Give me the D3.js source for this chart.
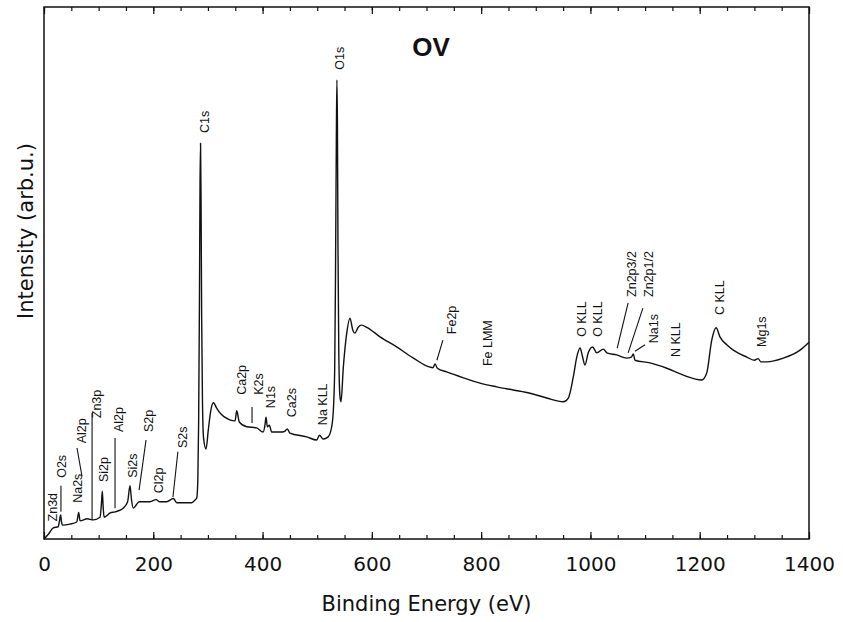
<!DOCTYPE html>
<html>
<head>
<meta charset="utf-8">
<script src="https://cdn.jsdelivr.net/npm/d3@7"></script>
<style>
  body { margin: 0; background: #fff; }
  #chart { width: 843px; height: 622px; }
</style>
</head>
<body>
<div id="chart"></div>
<script>
// XPS survey spectrum, sample "OV"
const energy = [
  0, 8, 17, 26, 28.5, 30.5, 32, 34, 47.6, 60, 63.5, 66, 79, 90, 102.5, 105, 106.7, 108.3, 110,
  121, 130, 145, 153, 157.4, 160, 163.4, 170, 174.4, 194, 205, 212, 224.5, 236.7, 243, 270,
  276, 279.5, 281.5, 283, 284.5, 285.5, 286.5, 287.5, 288.5, 290, 292, 296.5, 300.7, 305, 310,
  316, 322, 340, 349.6, 352.7, 357.4, 371, 389, 401, 404.5, 406.3, 408.7, 412.4, 416.7, 432,
  440, 445.3, 450, 480.8, 499, 504, 511, 520, 526.5, 529.5, 532, 533.5, 535, 536, 537, 538,
  539.5, 541.5, 543.5, 547.8, 554, 560, 565, 569, 575, 581, 590.6, 615, 645.5, 676, 706.4,
  712, 715.6, 720, 737, 767.4, 798, 828.5, 859, 889.5, 920, 950.4, 959.6, 968.7, 975, 981,
  985, 990, 996, 1004, 1011.5, 1023.6, 1030, 1048, 1066.4, 1075, 1078.5, 1081.6, 1109,
  1139.6, 1170, 1203.7, 1212.8, 1222, 1230, 1237, 1249.5, 1261.5, 1286, 1300, 1307, 1312,
  1322.6, 1353, 1383.6, 1400
];
const intensity = [
  0, 0.9, 2.1, 2.3, 3.5, 4.5, 3.2, 2.6, 2.8, 3.2, 5.0, 3.4, 3.8, 3.6, 4.1, 6.5, 9.0, 6.0, 4.1,
  4.9, 5.1, 5.8, 7.0, 10.0, 7.5, 5.8, 6.6, 7.0, 7.0, 7.4, 7.0, 7.0, 7.6, 6.8, 6.8,
  7.3, 7.7, 11, 22, 45, 66, 74.4, 62, 42, 26, 19, 16.9, 20.5, 24, 25.6,
  24.6, 23.7, 22.4, 22.2, 24.1, 22.0, 21.1, 20.9, 20.1, 21.5, 22.9, 21.1, 21.4, 20.1, 20.1,
  20.2, 20.7, 19.9, 19.2, 18.6, 19.5, 18.8, 19.2, 21.1, 24.2, 32, 50, 75, 86.3, 78, 55,
  35, 27, 25.8, 32.3, 38.7, 41.5, 39.3, 38.7, 39.8, 40.2, 39.8, 38.0, 36.1, 34.0, 32.3,
  32.2, 32.9, 32.1, 31.4, 30.3, 29.3, 28.6, 28.0, 27.4, 26.5, 25.8, 26.5, 30.5, 34.2, 35.9,
  34.5, 32.7, 35.0, 36.1, 35.0, 35.7, 35.0, 34.6, 34.0, 34.2, 34.8, 33.6, 33.1,
  32.1, 30.8, 29.9, 31.2, 37.4, 39.7, 38.0, 36.5, 35.5, 34.2, 33.6, 33.9, 33.3,
  33.3, 34.0, 35.5, 37.0
];

// peak assignments: label text and where its (rotated) text starts
const peakNames = [
  "Zn3d", "O2s", "Na2s", "Al2p", "Zn3p", "Si2p", "Al2p", "Si2s", "S2p", "Cl2p", "S2s",
  "C1s", "Ca2p", "K2s", "N1s", "Ca2s", "Na KLL", "O1s", "Fe2p", "Fe LMM", "O KLL", "O KLL",
  "Zn2p3/2", "Zn2p1/2", "Na1s", "N KLL", "C KLL", "Mg1s"
];
const peakLabelEnergy = [
  16.5, 33, 62, 69.5, 97, 110, 137, 163, 192, 210.5, 254,
  294.7, 362, 392, 415.5, 454, 510.6, 541.7, 746.7, 812.6, 983, 1014,
  1076, 1107, 1116.4, 1155, 1237, 1314
];
const peakLabelIntensity = [
  3.3, 11.5, 6.8, 18.0, 22.7, 10.7, 20.1, 11.5, 20.1, 8.6, 17.1,
  76.3, 27.1, 27.1, 24.6, 22.9, 21.4, 88.2, 38.5, 32.5, 38.0, 38.0,
  45.5, 45.5, 36.8, 34.2, 42.1, 36.1
];
// leader lines [energy1, intensity1, energy2, intensity2]
const leaderLines = [
  [31, 10.0, 31, 5.1],
  [60.4, 17.1, 69.5, 11.8],
  [88, 23.7, 88, 3.6],
  [130, 19.0, 130, 5.8],
  [186.7, 18.6, 174, 9.2],
  [245, 16.4, 236, 7.9],
  [380.7, 24.8, 380.7, 21.8],
  [730, 37.4, 719, 33.6],
  [1069, 44.4, 1049, 35.9],
  [1096, 43.4, 1069, 35.0],
  [1100, 36.5, 1081.6, 35.3]
];

const xLabelTicks = [0, 200, 400, 600, 800, 1000, 1200, 1400];
const xMinorTicks = d3.range(0, 1401, 50);
const chartTitle = "OV";
const xTitle = "Binding Energy (eV)";
const yTitle = "Intensity (arb.u.)";

const width = 843, height = 622;
const margin = { top: 7, right: 34, bottom: 83, left: 44 };

const svg = d3.select("#chart").append("svg")
  .attr("width", width)
  .attr("height", height);

const x = d3.scaleLinear().domain([0, 1400]).range([margin.left, width - margin.right]);
const y = d3.scaleLinear().domain([0, 100]).range([height - margin.bottom, margin.top]);

const ink = "#111";

// bottom axis: minor ticks then labelled ones
svg.append("g")
  .attr("transform", `translate(0,${y(0)})`)
  .call(d3.axisBottom(x).tickValues(xMinorTicks).tickSize(-4).tickFormat(""))
  .call(g => g.select(".domain").remove());
svg.append("g")
  .attr("transform", `translate(0,${y(0)})`)
  .call(d3.axisBottom(x).tickValues(xLabelTicks).tickSize(-7).tickPadding(18).tickFormat(d3.format("d")))
  .call(g => g.select(".domain").remove())
  .call(g => g.selectAll("text")
    .attr("font-family", "'DejaVu Sans', sans-serif")
    .attr("font-size", 20)
    .attr("fill", ink));

// top axis, ticks inside
svg.append("g")
  .attr("transform", `translate(0,${y(100)})`)
  .call(d3.axisTop(x).tickValues(xMinorTicks).tickSize(-4).tickFormat(""))
  .call(g => g.select(".domain").remove());
svg.append("g")
  .attr("transform", `translate(0,${y(100)})`)
  .call(d3.axisTop(x).tickValues(xLabelTicks).tickSize(-7).tickFormat(""))
  .call(g => g.select(".domain").remove());

svg.selectAll(".tick line").attr("stroke", ink).attr("stroke-width", 1.2);

// frame
svg.append("rect")
  .attr("x", x(0))
  .attr("y", y(100))
  .attr("width", x(1400) - x(0))
  .attr("height", y(0) - y(100))
  .attr("fill", "none")
  .attr("stroke", ink)
  .attr("stroke-width", 1.5);

// spectrum
const points = energy.map((e, i) => [e, intensity[i]]);
svg.append("path")
  .datum(points)
  .attr("fill", "none")
  .attr("stroke", ink)
  .attr("stroke-width", 1.4)
  .attr("stroke-linejoin", "round")
  .attr("d", d3.line()
    .x(d => x(d[0]))
    .y(d => y(d[1]))
    .curve(d3.curveMonotoneX));

// leader lines
svg.append("g")
  .selectAll("line")
  .data(leaderLines)
  .enter().append("line")
  .attr("x1", d => x(d[0]))
  .attr("y1", d => y(d[1]))
  .attr("x2", d => x(d[2]))
  .attr("y2", d => y(d[3]))
  .attr("stroke", ink)
  .attr("stroke-width", 1.1);

// peak labels, rotated
svg.append("g")
  .selectAll("text")
  .data(peakNames)
  .enter().append("text")
  .attr("transform", (d, i) => `translate(${x(peakLabelEnergy[i])},${y(peakLabelIntensity[i])}) rotate(-90)`)
  .attr("dy", "0.35em")
  .attr("text-anchor", "start")
  .attr("font-family", "'Liberation Sans', Arial, sans-serif")
  .attr("font-size", 12.5)
  .attr("fill", ink)
  .text(d => d);

// title
svg.append("text")
  .attr("x", 431)
  .attr("y", 56)
  .attr("text-anchor", "middle")
  .attr("font-family", "'Liberation Sans', Arial, sans-serif")
  .attr("font-weight", "bold")
  .attr("font-size", 26)
  .attr("fill", ink)
  .text(chartTitle);

// axis titles
svg.append("text")
  .attr("x", (x(0) + x(1400)) / 2)
  .attr("y", 611)
  .attr("text-anchor", "middle")
  .attr("font-family", "'DejaVu Sans', sans-serif")
  .attr("font-size", 21)
  .attr("fill", ink)
  .text(xTitle);

svg.append("text")
  .attr("transform", `translate(33,${231}) rotate(-90)`)
  .attr("text-anchor", "middle")
  .attr("font-family", "'DejaVu Sans', sans-serif")
  .attr("font-size", 21)
  .attr("fill", ink)
  .text(yTitle);
</script>
</body>
</html>
